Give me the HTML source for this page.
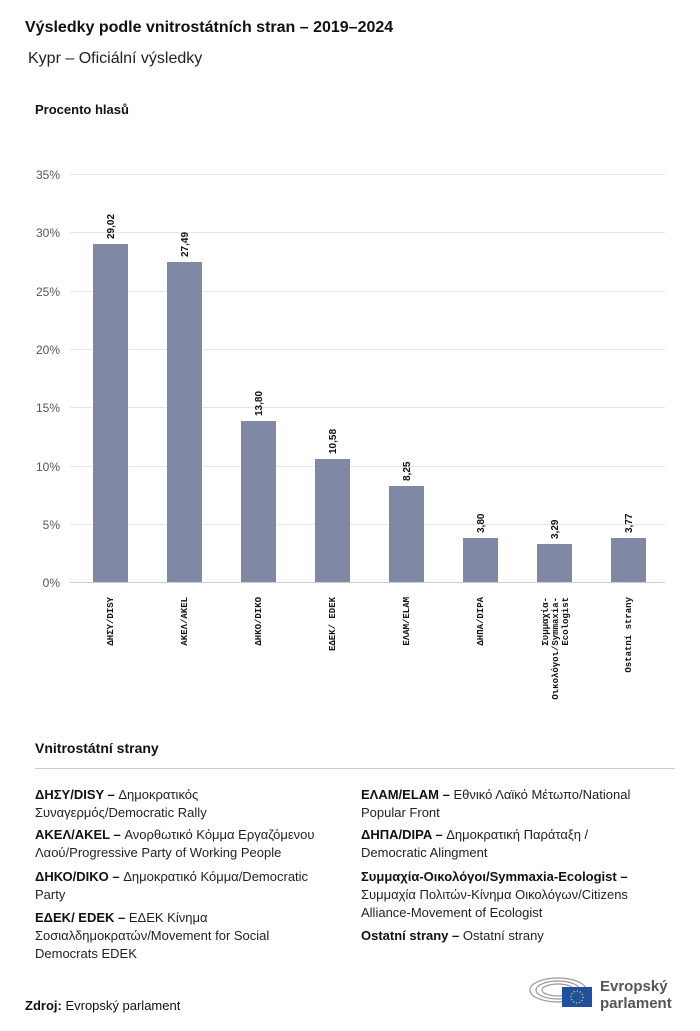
<!DOCTYPE html>
<html><head><meta charset="utf-8"><style>
body{margin:0;background:#fff;width:700px;height:1031px;overflow:hidden;font-family:"Liberation Sans","DejaVu Sans",sans-serif;color:#111;position:relative}
.a{position:absolute}
.leg{position:absolute;font-size:13px;line-height:18px;color:#222}
.leg b{font-weight:bold;color:#111}
</style></head><body>
<div class="a" style="left:25px;top:19px;font-size:16px;font-weight:bold">Výsledky podle vnitrostátních stran – 2019–2024</div>
<div class="a" style="left:28px;top:50px;font-size:16px;color:#222">Kypr – Oficiální výsledky</div>
<div class="a" style="left:35px;top:102px;font-size:13px;font-weight:bold">Procento hlasů</div>
<svg class="a" style="left:0;top:0" width="700" height="720">
<g stroke="#e6e6e6" stroke-width="1">
<line x1="70" x2="665" y1="174.5" y2="174.5"/><line x1="70" x2="665" y1="232.5" y2="232.5"/>
<line x1="70" x2="665" y1="291.5" y2="291.5"/><line x1="70" x2="665" y1="349.5" y2="349.5"/>
<line x1="70" x2="665" y1="407.5" y2="407.5"/><line x1="70" x2="665" y1="466.5" y2="466.5"/>
<line x1="70" x2="665" y1="524.5" y2="524.5"/></g>
<line x1="70" x2="665" y1="582.5" y2="582.5" stroke="#ccd" />
<g font-size="12" fill="#555" text-anchor="end" font-family="Liberation Sans,sans-serif">
<text x="60" y="179">35%</text><text x="60" y="237">30%</text><text x="60" y="296">25%</text>
<text x="60" y="354">20%</text><text x="60" y="412">15%</text><text x="60" y="471">10%</text>
<text x="60" y="529">5%</text><text x="60" y="587">0%</text></g>
<g fill="#7f89a6">
<rect x="93" y="244" width="35" height="338"/>
<rect x="167" y="262" width="35" height="320"/>
<rect x="241" y="421" width="35" height="161"/>
<rect x="315" y="459" width="35" height="123"/>
<rect x="389" y="486" width="35" height="96"/>
<rect x="463" y="538" width="35" height="44"/>
<rect x="537" y="544" width="35" height="38"/>
<rect x="611" y="538" width="35" height="44"/>
</g>
<g font-size="10" font-weight="bold" fill="#111" font-family="Liberation Sans,sans-serif">
<text transform="translate(114,239) rotate(-90)">29,02</text>
<text transform="translate(188,257) rotate(-90)">27,49</text>
<text transform="translate(262,416) rotate(-90)">13,80</text>
<text transform="translate(336,454) rotate(-90)">10,58</text>
<text transform="translate(410,481) rotate(-90)">8,25</text>
<text transform="translate(484,533) rotate(-90)">3,80</text>
<text transform="translate(558,539) rotate(-90)">3,29</text>
<text transform="translate(632,533) rotate(-90)">3,77</text>
</g>
<g font-size="9" font-weight="bold" fill="#111" text-anchor="end" font-family="Liberation Mono,DejaVu Sans Mono,monospace">
<text transform="translate(113,597) rotate(-90)">ΔΗΣΥ/DISY</text>
<text transform="translate(187,597) rotate(-90)">ΑΚΕΛ/AKEL</text>
<text transform="translate(261,597) rotate(-90)">ΔΗΚΟ/DIKO</text>
<text transform="translate(335,597) rotate(-90)">ΕΔΕΚ/ EDEK</text>
<text transform="translate(409,597) rotate(-90)">ΕΛΑΜ/ELAM</text>
<text transform="translate(483,597) rotate(-90)">ΔΗΠΑ/DIPA</text>
<text transform="translate(548,597) rotate(-90)">Συμμαχία-</text>
<text transform="translate(558,597) rotate(-90)">Οικολόγοι/Symmaxia-</text>
<text transform="translate(568,597) rotate(-90)">Ecologist</text>
<text transform="translate(631,597) rotate(-90)">Ostatní strany</text>
</g>
</svg>
<div class="a" style="left:35px;top:740px;font-size:14px;font-weight:bold">Vnitrostátní strany</div>
<div class="a" style="left:35px;top:768px;width:640px;height:1px;background:#ccc"></div>
<div class="leg" style="left:35px;top:786px;width:300px"><b>ΔΗΣΥ/DISY –</b> Δημοκρατικός Συναγερμός/Democratic Rally</div>
<div class="leg" style="left:35px;top:826px;width:300px"><b>ΑΚΕΛ/AKEL –</b> Ανορθωτικό Κόμμα Εργαζόμενου Λαού/Progressive Party of Working People</div>
<div class="leg" style="left:35px;top:868px;width:300px"><b>ΔΗΚΟ/DIKO –</b> Δημοκρατικό Κόμμα/Democratic Party</div>
<div class="leg" style="left:35px;top:909px;width:300px"><b>ΕΔΕΚ/ EDEK –</b> ΕΔΕΚ Κίνημα Σοσιαλδημοκρατών/Movement for Social Democrats EDEK</div>
<div class="leg" style="left:361px;top:786px;width:300px"><b>ΕΛΑΜ/ELAM –</b> Εθνικό Λαϊκό Μέτωπο/National Popular Front</div>
<div class="leg" style="left:361px;top:826px;width:300px"><b>ΔΗΠΑ/DIPA –</b> Δημοκρατική Παράταξη /<br>Democratic Alingment</div>
<div class="leg" style="left:361px;top:868px;width:300px"><b>Συμμαχία-Οικολόγοι/Symmaxia-Ecologist –</b> Συμμαχία Πολιτών-Κίνημα Οικολόγων/Citizens Alliance-Movement of Ecologist</div>
<div class="leg" style="left:361px;top:927px;width:300px"><b>Ostatní strany –</b> Ostatní strany</div>
<div class="a" style="left:25px;top:998px;font-size:13px"><b>Zdroj:</b> Evropský parlament</div>
<svg class="a" style="left:528px;top:970px" width="70" height="40">
<g fill="none" stroke="#999" stroke-width="1.2">
<ellipse cx="30" cy="20" rx="28" ry="12"/><ellipse cx="30" cy="20" rx="22" ry="9"/><ellipse cx="30" cy="20" rx="16" ry="6"/></g>
<rect x="34" y="17" width="30" height="20" fill="#1f4fa0"/>
<circle cx="49" cy="27" r="6" fill="none" stroke="#f5d400" stroke-width="1.3" stroke-dasharray="1.2 1.9"/>
</svg>
<div class="a" style="left:600px;top:978px;font-size:15px;font-weight:bold;color:#555;line-height:17px">Evropský<br>parlament</div>
</body></html>
